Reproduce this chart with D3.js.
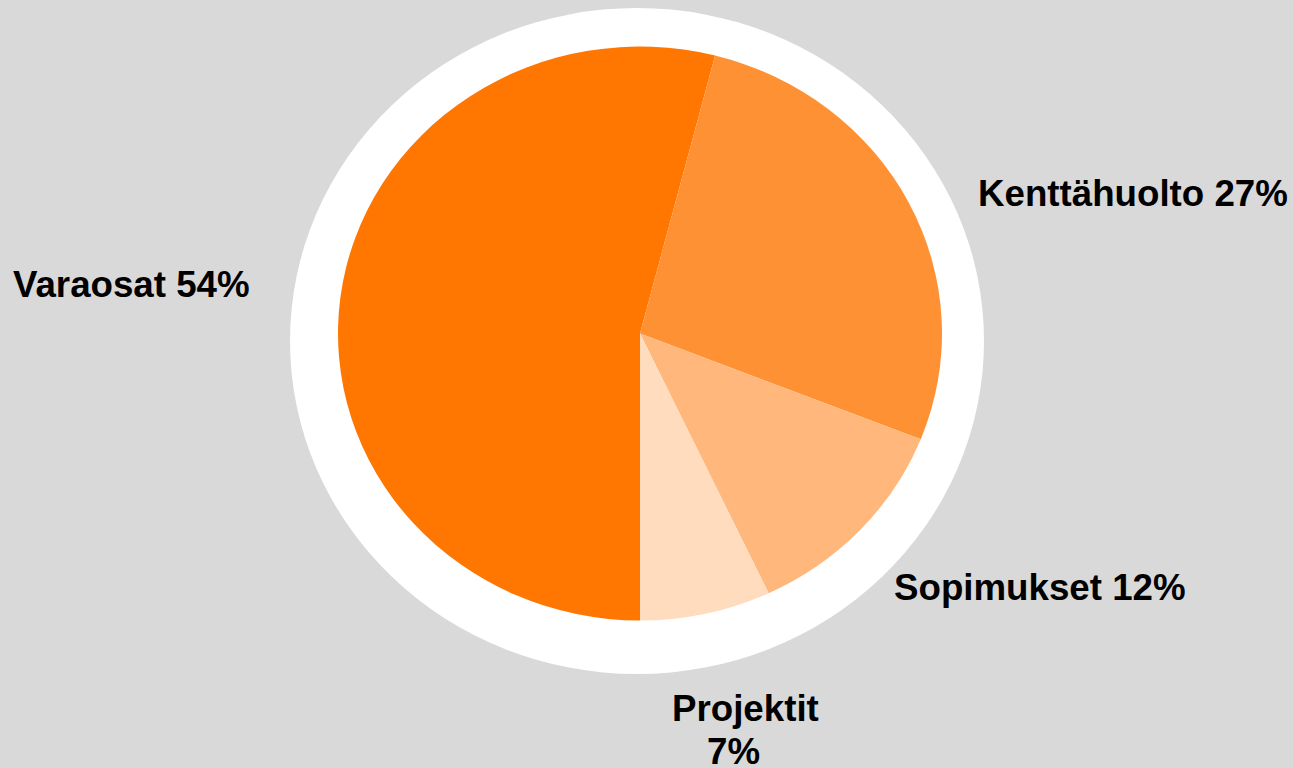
<!DOCTYPE html>
<html>
<head>
<meta charset="utf-8">
<script src="https://cdn.jsdelivr.net/npm/d3@7"></script>
<style>
  html, body { margin: 0; padding: 0; background: #d9d9d9; }
  svg { display: block; }
  text { font-family: "Liberation Sans", Arial, sans-serif; font-weight: bold; fill: #000; }
</style>
</head>
<body>
<div id="chart"></div>
<script>
/* ─────────────────────────────────────────────────────────
   DATA
───────────────────────────────────────────────────────── */
const categories = ["Varaosat", "Kenttähuolto", "Sopimukset", "Projektit"];
const shares     = [54, 27, 12, 7];
const colors     = ["#ff7600", "#ff9135", "#ffb77b", "#ffdcbe"];

// label lines per slice (Projektit wraps to two lines)
const labelLines = [
  ["Varaosat 54%"],
  ["Kenttähuolto 27%"],
  ["Sopimukset 12%"],
  ["Projektit", "7%"]
];

/* ─────────────────────────────────────────────────────────
   LAYOUT
───────────────────────────────────────────────────────── */
const W = 1293, H = 768;
const ring = { cx: 637, cy: 341, rx: 347, ry: 333 };
const pieG = { cx: 640, cy: 333.5, rx: 302, ry: 287 };
// anchor of each label line [x, baseline]
const labelPos = [
  [[13, 297]],
  [[978, 206]],
  [[894, 600]],
  [[672, 721], [707, 764]]
];

const svg = d3.select("#chart").append("svg")
  .attr("width", W).attr("height", H);

svg.append("rect").attr("width", W).attr("height", H).attr("fill", "#d9d9d9");

// white halo behind the pie
svg.append("ellipse")
  .attr("cx", ring.cx).attr("cy", ring.cy)
  .attr("rx", ring.rx).attr("ry", ring.ry)
  .attr("fill", "#ffffff");

const pie = d3.pie().sort(null)
  .startAngle(Math.PI).endAngle(3 * Math.PI)
  .value(d => d);

const arc = d3.arc().innerRadius(0).outerRadius(pieG.rx);

const g = svg.append("g")
  .attr("transform", `translate(${pieG.cx},${pieG.cy}) scale(1,${pieG.ry / pieG.rx})`);

g.selectAll("path").data(pie(shares)).join("path")
  .attr("d", arc)
  .attr("fill", (d, i) => colors[i]);

/* labels */
categories.forEach((c, i) => {
  labelLines[i].forEach((line, j) => {
    svg.append("text")
      .attr("x", labelPos[i][j][0])
      .attr("y", labelPos[i][j][1])
      .attr("font-size", "36.7px")
      .text(line);
  });
});
</script>
</body>
</html>
